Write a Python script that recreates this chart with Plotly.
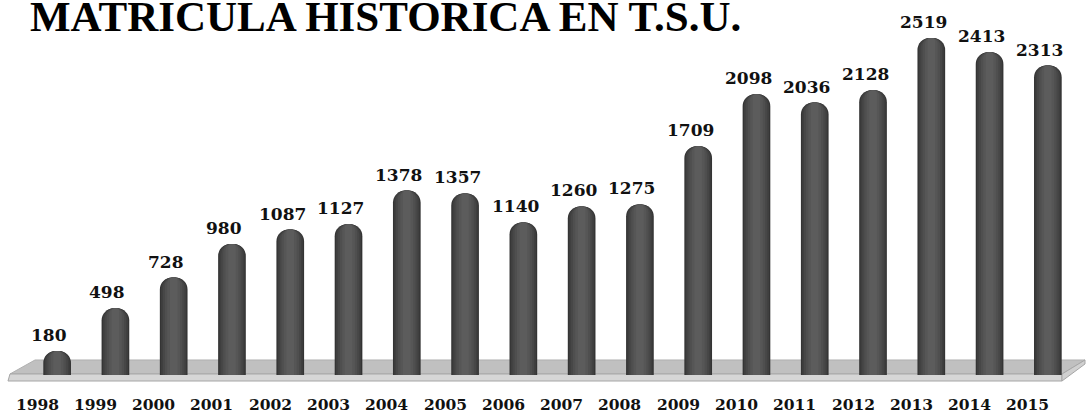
import plotly.graph_objects as go

years = ["1998", "1999", "2000", "2001", "2002", "2003", "2004", "2005", "2006",
         "2007", "2008", "2009", "2010", "2011", "2012", "2013", "2014", "2015"]
values = [180, 498, 728, 980, 1087, 1127, 1378, 1357, 1140,
          1260, 1275, 1709, 2098, 2036, 2128, 2519, 2413, 2313]
title_text = "MATRICULA HISTORICA EN T.S.U."

W, H = 1086, 415
ML, MR, MT, MB = 28, 9, 15, 40
PW, PH = W - ML - MR, H - MT - MB


def px(x):
    return (x - ML) / PW


def py(y):
    return (H - MB - y) / PH


fig = go.Figure()

# cylinder shading: overlaid bars of decreasing width
layers = [
    (0.475, "#343434", 12),
    (0.43, "#3f3f3f", 11),
    (0.37, "#474747", 10),
    (0.30, "#4f4f4f", 8),
    (0.22, "#565656", 6),
    (0.13, "#5c5c5c", 4),
]
idx = list(range(len(years)))
for w, c, r in layers:
    fig.add_trace(go.Bar(
        x=idx, y=values, width=w,
        marker=dict(color=c, line=dict(width=0), cornerradius=r),
        hoverinfo="skip", showlegend=False,
    ))

# data labels
for i, v in zip(idx, values):
    fig.add_annotation(
        x=i, y=v, text=f"<b>{v}</b>", showarrow=False,
        xanchor="center", yanchor="bottom", xshift=-8, yshift=4,
        font=dict(family="DejaVu Serif", size=17, color="#111111"),
    )

# category labels (in front of the floor, hence shifted left)
for i, yr in zip(idx, years):
    fig.add_annotation(
        x=i, y=0, text=f"<b>{yr}</b>", showarrow=False,
        xanchor="center", yanchor="middle", xshift=-20, yshift=-29,
        font=dict(family="DejaVu Serif", size=15.5, color="#111111"),
    )

# floor (decoration)
def path(pts):
    return "M " + " L ".join(f"{px(a):.5f},{py(b):.5f}" for a, b in pts) + " Z"

fig.add_shape(type="path", xref="paper", yref="paper", layer="below",
              path=path([(35, 360), (1085, 360), (1062, 374), (10, 374)]),
              fillcolor="#c0c0c0", line=dict(color="#b0b0b0", width=1))
fig.add_shape(type="path", xref="paper", yref="paper", layer="below",
              path=path([(10, 374), (1062, 374), (1062, 381), (8, 381)]),
              fillcolor="#d6d6d6", line=dict(color="#a6a6a6", width=1))
fig.add_shape(type="path", xref="paper", yref="paper", layer="below",
              path=path([(1062, 374), (1085, 360), (1085, 364), (1062, 381)]),
              fillcolor="#d0d0d0", line=dict(color="#a6a6a6", width=1))

fig.add_annotation(
    xref="paper", yref="paper", x=px(28), y=py(-9), xanchor="left", yanchor="top",
    text=f"<b>{title_text}</b>", showarrow=False,
    font=dict(family="Liberation Serif", size=43, color="#000000"),
)

fig.update_layout(
    width=W, height=H,
    margin=dict(l=ML, r=MR, t=MT, b=MB, autoexpand=False),
    barmode="overlay",
    paper_bgcolor="white", plot_bgcolor="rgba(0,0,0,0)",
    xaxis=dict(range=[-0.5, 17.5], showgrid=False, zeroline=False, showline=False,
               ticks="", showticklabels=False, automargin=False, fixedrange=True),
    yaxis=dict(range=[0, PH / 0.1338], visible=False, automargin=False, fixedrange=True),
)

fig.write_html("out.html", config={"displayModeBar": False},
               post_script="document.body.style.margin='0px';")
